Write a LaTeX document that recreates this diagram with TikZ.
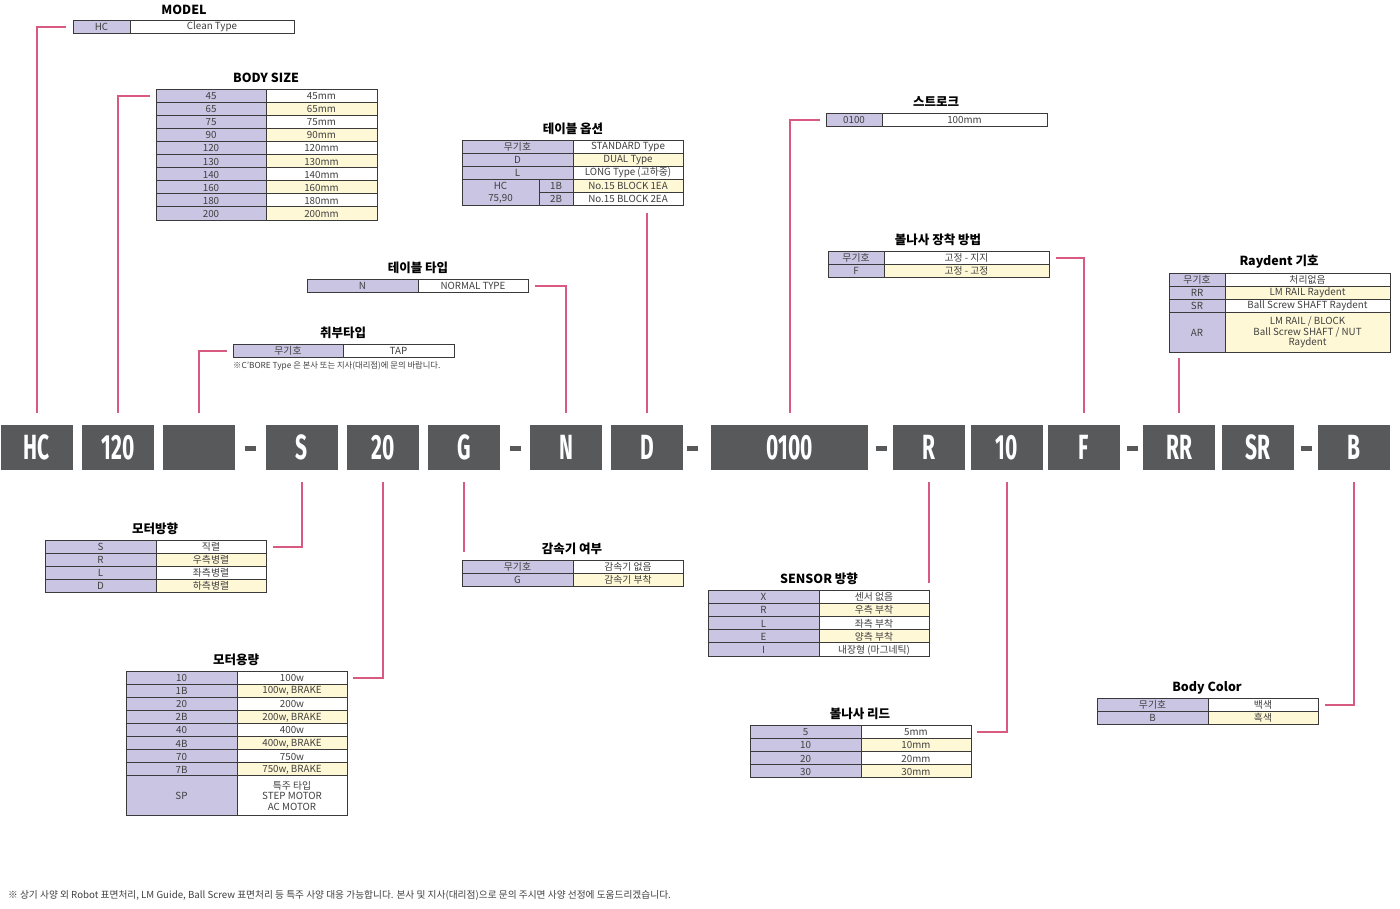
\documentclass[tikz,border=0pt]{standalone}
\usepackage{fontspec}
\setmainfont{Noto Sans CJK KR}
\newfontfamily\codefont[FakeStretch=0.6]{Fira Sans}
\definecolor{lav}{HTML}{C9C5E3}
\definecolor{ylw}{HTML}{FFF8D6}
\definecolor{pinkc}{HTML}{D85A80}
\definecolor{boxg}{HTML}{58595B}
\definecolor{gridc}{HTML}{3A3A3A}
\definecolor{txt}{HTML}{404040}
\tikzset{
  grid/.style={draw=gridc, line width=0.9pt},
  ctext/.style={inner sep=0pt, align=center, text=txt, font=\fontsize{9.8}{10.6}\selectfont},
  ttl/.style={inner sep=0pt, text=black, font=\fontsize{12.5}{14}\selectfont\bfseries},
  code/.style={fill=boxg, minimum height=45pt, inner sep=0pt, text=white, font=\codefont\bfseries\fontsize{35}{36}\selectfont},
  dashbox/.style={fill=boxg, minimum width=11pt, minimum height=5pt, inner sep=0pt},
  conn/.style={draw=pinkc, line width=2pt},
  note/.style={inner sep=0pt, anchor=west, text=txt}
}
% #1 name, #2 x0, #3 split, #4 x1, #5 y0, #6 y1, #7 left, #8 right, #9 fill
\newcommand{\trow}[9]{%
  \fill[lav] (#2,#5) rectangle (#3,#6);
  \fill[#9] (#3,#5) rectangle (#4,#6);
  \draw[grid] (#2,#5) rectangle (#4,#6) (#3,#5) -- (#3,#6);
  \node[ctext] (#1l) at ({(#2+#3)/2},{(#5+#6)/2+0.5}) {#7};
  \node[ctext] (#1r) at ({(#3+#4)/2},{(#5+#6)/2+0.5}) {#8};
  \coordinate (#1w) at (#2,{(#5+#6)/2});
  \coordinate (#1e) at (#4,{(#5+#6)/2});
}
\begin{document}
\begin{tikzpicture}[x=1pt,y=-1pt]
\useasboundingbox[fill=white] (0,0) rectangle (1400,908);

% ---------- code boxes ----------
\node[code, minimum width=72pt] (hc) at (37,447.5) {HC};
\node[code, minimum width=72pt] (b120) at (118,447.5) {120};
\node[code, minimum width=72pt] (blank) at (199,447.5) {};
\node[dashbox] (d1) at (250.5,448) {};
\node[code, minimum width=72pt] (s) at (302,447.5) {S};
\node[code, minimum width=72pt] (b20) at (383,447.5) {20};
\node[code, minimum width=72pt] (g) at (464,447.5) {G};
\node[dashbox] (d2) at (515,448) {};
\node[code, minimum width=72pt] (n) at (566,447.5) {N};
\node[code, minimum width=72pt] (d) at (647,447.5) {D};
\node[dashbox] (d3) at (692,448) {};
\node[code, minimum width=157pt] (st) at (789.5,447.5) {0100};
\node[dashbox] (d4) at (881,448) {};
\node[code, minimum width=72pt] (r) at (929,447.5) {R};
\node[code, minimum width=72pt] (b10) at (1007,447.5) {10};
\node[code, minimum width=72pt] (f) at (1084,447.5) {F};
\node[dashbox] (d5) at (1132,448) {};
\node[code, minimum width=72pt] (rr) at (1179,447.5) {RR};
\node[code, minimum width=72pt] (sr) at (1258,447.5) {SR};
\node[dashbox] (d6) at (1306,448) {};
\node[code, minimum width=72pt] (bb) at (1354,447.5) {B};

% ---------- MODEL ----------
\node[ttl] (tmodel) at (184,10) {MODEL};
\trow{m1}{73}{130}{294}{20}{33}{HC}{Clean Type}{white}

% ---------- BODY SIZE ----------
\node[ttl] (tbody) at (266,78) {BODY SIZE};
\trow{bs1}{156}{266}{377}{89}{102.1}{45}{45mm}{white}
\trow{bs2}{156}{266}{377}{102.1}{115.2}{65}{65mm}{ylw}
\trow{bs3}{156}{266}{377}{115.2}{128.3}{75}{75mm}{white}
\trow{bs4}{156}{266}{377}{128.3}{141.4}{90}{90mm}{ylw}
\trow{bs5}{156}{266}{377}{141.4}{154.5}{120}{120mm}{white}
\trow{bs6}{156}{266}{377}{154.5}{167.6}{130}{130mm}{ylw}
\trow{bs7}{156}{266}{377}{167.6}{180.7}{140}{140mm}{white}
\trow{bs8}{156}{266}{377}{180.7}{193.8}{160}{160mm}{ylw}
\trow{bs9}{156}{266}{377}{193.8}{206.9}{180}{180mm}{white}
\trow{bs10}{156}{266}{377}{206.9}{220}{200}{200mm}{ylw}

% ---------- 테이블 옵션 ----------
\node[ttl] (topt) at (573,129) {테이블 옵션};
\trow{to1}{462}{573}{683}{140}{153}{무기호}{STANDARD Type}{white}
\trow{to2}{462}{573}{683}{153}{166}{D}{DUAL Type}{ylw}
\trow{to3}{462}{573}{683}{166}{179}{L}{LONG Type (고하중)}{white}
\fill[lav] (462,179) rectangle (573,205);
\fill[ylw] (573,179) rectangle (683,192);
\fill[white] (573,192) rectangle (683,205);
\draw[grid] (462,179) rectangle (683,205) (539,179) -- (539,205) (573,179) -- (573,205) (539,192) -- (683,192);
\node[ctext] (to4a) at (500.5,186) {HC};
\node[ctext] (to5a) at (500.5,199) {75,90};
\node[ctext] (to4b) at (556,186) {1B};
\node[ctext] (to5b) at (556,199) {2B};
\node[ctext] (to4r) at (628,186) {No.15 BLOCK 1EA};
\node[ctext] (to5r) at (628,199) {No.15 BLOCK 2EA};
\coordinate (to5w) at (462,198.5);

% ---------- 테이블 타입 ----------
\node[ttl] (ttype) at (418,268) {테이블 타입};
\trow{tt1}{307}{418}{528}{279}{292}{N}{NORMAL TYPE}{white}

% ---------- 취부타입 ----------
\node[ttl] (tmount) at (343,333) {취부타입};
\trow{cb1}{233}{343}{454}{344}{357}{무기호}{TAP}{white}
\node[note, font=\fontsize{8.3}{9}\selectfont] (cbnote) at (233,366) {※C'BORE Type 은 본사 또는 지사(대리점)에 문의 바랍니다.};

% ---------- 스트로크 ----------
\node[ttl] (tstroke) at (936,102) {스트로크};
\trow{sk1}{826}{882}{1047}{113}{126}{0100}{100mm}{white}

% ---------- 볼나사 장착 방법 ----------
\node[ttl] (tbm) at (938,240) {볼나사 장착 방법};
\trow{bm1}{828}{884}{1049}{251}{264}{무기호}{고정 - 지지}{white}
\trow{bm2}{828}{884}{1049}{264}{277}{F}{고정 - 고정}{ylw}

% ---------- Raydent 기호 ----------
\node[ttl] (tray) at (1279,262) {Raydent 기호};
\trow{ry1}{1169}{1225}{1390}{273}{286}{무기호}{처리없음}{white}
\trow{ry2}{1169}{1225}{1390}{286}{299}{RR}{LM RAIL Raydent}{ylw}
\trow{ry3}{1169}{1225}{1390}{299}{312}{SR}{Ball Screw SHAFT Raydent}{white}
\trow{ry4}{1169}{1225}{1390}{312}{352}{AR}{LM RAIL / BLOCK\\Ball Screw SHAFT / NUT\\Raydent}{ylw}

% ---------- 모터방향 ----------
\node[ttl] (tmd) at (155,529) {모터방향};
\trow{md1}{45}{156}{266}{540}{553}{S}{직렬}{white}
\trow{md2}{45}{156}{266}{553}{566}{R}{우측병렬}{ylw}
\trow{md3}{45}{156}{266}{566}{579}{L}{좌측병렬}{white}
\trow{md4}{45}{156}{266}{579}{592}{D}{하측병렬}{ylw}

% ---------- 모터용량 ----------
\node[ttl] (tmc) at (236,660) {모터용량};
\trow{mc1}{126}{237}{347}{671}{684.1}{10}{100w}{white}
\trow{mc2}{126}{237}{347}{684.1}{697.2}{1B}{100w, BRAKE}{ylw}
\trow{mc3}{126}{237}{347}{697.2}{710.3}{20}{200w}{white}
\trow{mc4}{126}{237}{347}{710.3}{723.4}{2B}{200w, BRAKE}{ylw}
\trow{mc5}{126}{237}{347}{723.4}{736.5}{40}{400w}{white}
\trow{mc6}{126}{237}{347}{736.5}{749.6}{4B}{400w, BRAKE}{ylw}
\trow{mc7}{126}{237}{347}{749.6}{762.7}{70}{750w}{white}
\trow{mc8}{126}{237}{347}{762.7}{775.8}{7B}{750w, BRAKE}{ylw}
\trow{mc9}{126}{237}{347}{775.8}{815}{SP}{특주 타입\\STEP MOTOR\\AC MOTOR}{white}

% ---------- 감속기 여부 ----------
\node[ttl] (tgr) at (572,549) {감속기 여부};
\trow{gr1}{462}{573}{683}{560}{573}{무기호}{감속기 없음}{white}
\trow{gr2}{462}{573}{683}{573}{586}{G}{감속기 부착}{ylw}

% ---------- SENSOR 방향 ----------
\node[ttl] (tsn) at (819,579) {SENSOR 방향};
\trow{sn1}{708}{819}{929}{590}{603.2}{X}{센서 없음}{white}
\trow{sn2}{708}{819}{929}{603.2}{616.4}{R}{우측 부착}{ylw}
\trow{sn3}{708}{819}{929}{616.4}{629.6}{L}{좌측 부착}{white}
\trow{sn4}{708}{819}{929}{629.6}{642.8}{E}{양측 부착}{ylw}
\trow{sn5}{708}{819}{929}{642.8}{656}{I}{내장형 (마그네틱)}{white}

% ---------- 볼나사 리드 ----------
\node[ttl] (tld) at (860,714) {볼나사 리드};
\trow{ld1}{750}{861}{971}{725}{738.2}{5}{5mm}{white}
\trow{ld2}{750}{861}{971}{738.2}{751.4}{10}{10mm}{ylw}
\trow{ld3}{750}{861}{971}{751.4}{764.6}{20}{20mm}{white}
\trow{ld4}{750}{861}{971}{764.6}{777.8}{30}{30mm}{ylw}

% ---------- Body Color ----------
\node[ttl] (tbc) at (1207,688) {Body Color};
\trow{bc1}{1097}{1208}{1318}{698}{711}{무기호}{백색}{white}
\trow{bc2}{1097}{1208}{1318}{711}{724}{B}{흑색}{ylw}

% ---------- footer ----------
\node[note, font=\fontsize{9.7}{10}\selectfont] (footer) at (8,895) {※ 상기 사양 외 Robot 표면처리, LM Guide, Ball Screw 표면처리 등 특주 사양 대응 가능합니다. 본사 및 지사(대리점)으로 문의 주시면 사양 선정에 도움드리겠습니다.};

% ---------- connectors ----------
\draw[conn] ([yshift=12pt]hc.north) |- ([xshift=-7pt]m1w);
\draw[conn] ([yshift=12pt]b120.north) |- ([xshift=-6pt]bs1w);
\draw[conn] ([yshift=12pt]blank.north) |- ([xshift=-6pt]cb1w);
\draw[conn] ([yshift=-12pt]s.south) |- ([xshift=7pt]md1e);
\draw[conn] ([yshift=-12pt]b20.south) |- ([xshift=6pt]mc1e);
\draw[conn] ([yshift=-12pt]g.south) -- ([yshift=-82pt]g.south);
\draw[conn] ([yshift=12pt]n.north) |- ([xshift=7pt]tt1e);
\draw[conn] ([yshift=12pt]d.north) -- ([yshift=-14.5pt]d.north |- to5w);
\draw[conn] ([yshift=12pt]st.north) |- ([xshift=-6pt]sk1w);
\draw[conn] ([yshift=-12pt]r.south) -- ([yshift=-113pt]r.south);
\draw[conn] ([yshift=-12pt]b10.south) |- ([xshift=6pt]ld1e);
\draw[conn] ([yshift=12pt]f.north) |- ([xshift=7pt]bm1e);
\draw[conn] ([yshift=12pt]rr.north) -- ([yshift=-26pt]rr.north |- ry4w);
\draw[conn] ([yshift=-12pt]bb.south) |- ([xshift=7pt]bc1e);
\end{tikzpicture}
\end{document}
